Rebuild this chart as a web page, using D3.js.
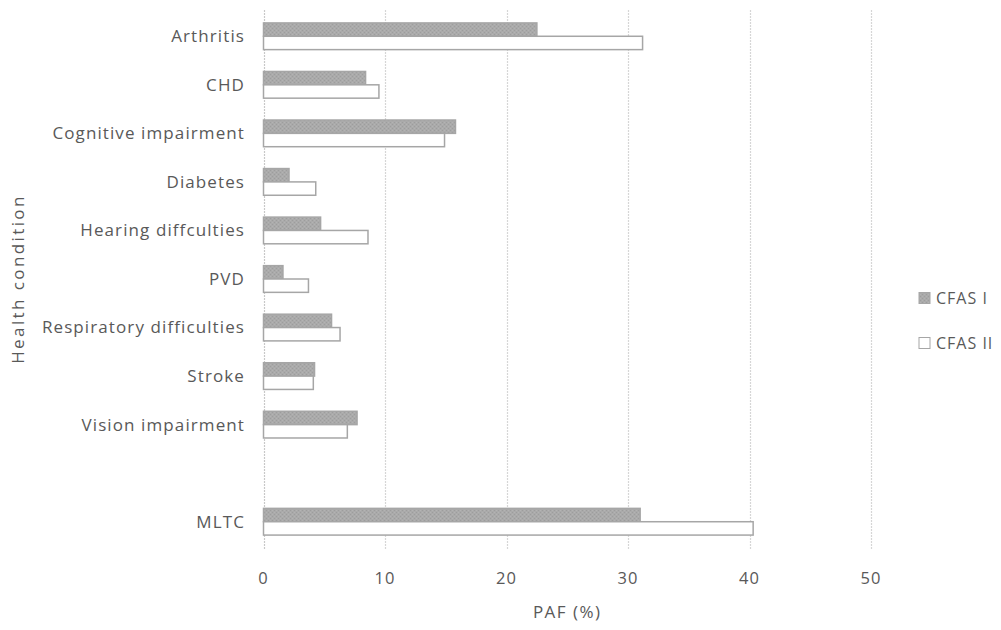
<!DOCTYPE html>
<html>
<head>
<meta charset="utf-8">
<script src="https://cdn.jsdelivr.net/npm/d3@7"></script>
<style>
  html, body { margin: 0; padding: 0; background: #fff; }
  svg { display: block; }
  text { font-family: "Open Sans", "DejaVu Sans", sans-serif; fill: #595959; }
</style>
</head>
<body>
<svg id="chart" width="1001" height="630"></svg>
<script>
const categories = ["Arthritis", "CHD", "Cognitive impairment", "Diabetes", "Hearing diffculties", "PVD", "Respiratory difficulties", "Stroke", "Vision impairment", "", "MLTC"];
const cfas1 = [22.5, 8.4, 15.8, 2.1, 4.7, 1.6, 5.6, 4.2, 7.7, null, 31.0];
const cfas2 = [31.2, 9.5, 14.9, 4.3, 8.6, 3.7, 6.3, 4.1, 6.9, null, 40.3];
const seriesNames = ["CFAS I", "CFAS II"];
const xTicks = [0, 10, 20, 30, 40, 50];

const svg = d3.select("#chart");
const margin = { left: 263.5, top: 12 };

const x = d3.scaleLinear().domain([0, 50]).range([margin.left, 871]);
const keys = categories.map((c, i) => "k" + i);
const y = d3.scaleBand().domain(keys).range([margin.top, 546]).paddingInner(0.45).paddingOuter(0.225);
const ySub = d3.scaleBand().domain([0, 1]).range([0, y.bandwidth()]);

// pattern for CFAS I
const defs = svg.append("defs");
const pat = defs.append("pattern").attr("id", "dots").attr("patternUnits", "userSpaceOnUse")
  .attr("width", 4).attr("height", 4);
pat.append("rect").attr("width", 4).attr("height", 4).attr("fill", "#aaaaaa");
pat.append("rect").attr("x", 0).attr("y", 0).attr("width", 1).attr("height", 1).attr("fill", "#9d9d9d");
pat.append("rect").attr("x", 2).attr("y", 2).attr("width", 1).attr("height", 1).attr("fill", "#9d9d9d");
pat.append("rect").attr("x", 2).attr("y", 0).attr("width", 1).attr("height", 1).attr("fill", "#b3b3b3");
pat.append("rect").attr("x", 0).attr("y", 2).attr("width", 1).attr("height", 1).attr("fill", "#b3b3b3");

// gridlines
svg.append("g").selectAll("line").data(xTicks).join("line")
  .attr("x1", d => Math.round(x(d)) + 0.5).attr("x2", d => Math.round(x(d)) + 0.5)
  .attr("y1", 10).attr("y2", 550)
  .attr("stroke", d => d === 0 ? "#c8c8c8" : "#d6d6d6")
  .attr("stroke-width", 1.2)
  .attr("stroke-dasharray", "2,1");

// bars
const data = [];
categories.forEach((c, i) => {
  if (cfas1[i] != null) data.push({ k: keys[i], s: 0, v: cfas1[i] });
  if (cfas2[i] != null) data.push({ k: keys[i], s: 1, v: cfas2[i] });
});
svg.append("g").selectAll("rect").data(data).join("rect")
  .attr("x", x(0))
  .attr("y", d => y(d.k) + ySub(d.s))
  .attr("width", d => x(d.v) - x(0))
  .attr("height", ySub.bandwidth())
  .attr("fill", d => d.s === 0 ? "url(#dots)" : "#ffffff")
  .attr("stroke", "#a6a6a6")
  .attr("stroke-width", 1.5);

// category labels
svg.append("g").selectAll("text").data(categories).join("text")
  .attr("x", 245)
  .attr("y", (d, i) => y(keys[i]) + y.bandwidth() / 2)
  .attr("dy", "0.35em")
  .attr("text-anchor", "end")
  .attr("font-size", 17)
  .attr("letter-spacing", "1.1px")
  .text(d => d);

// x tick labels
svg.append("g").selectAll("text").data(xTicks).join("text")
  .attr("x", d => x(d))
  .attr("y", 578)
  .attr("dy", "0.35em")
  .attr("text-anchor", "middle")
  .attr("font-size", 16.5)
  .attr("letter-spacing", "1px")
  .text(d => d);

// axis titles
svg.append("text").attr("x", (x(0) + x(50)) / 2).attr("y", 612).attr("dy", "0.35em")
  .attr("text-anchor", "middle").attr("font-size", 17).attr("letter-spacing", "1.5px").text("PAF (%)");
svg.append("text").attr("transform", `translate(18, ${(12 + 546) / 2}) rotate(-90)`)
  .attr("dy", "0.35em").attr("text-anchor", "middle").attr("font-size", 17)
  .attr("letter-spacing", "2.4px")
  .text("Health condition");

// legend
const leg = svg.append("g");
seriesNames.forEach((n, i) => {
  const ly = 298 + i * 45;
  leg.append("rect").attr("x", 919).attr("y", ly - 5.5).attr("width", 11).attr("height", 11)
    .attr("fill", i === 0 ? "url(#dots)" : "#fff").attr("stroke", "#a6a6a6").attr("stroke-width", 1);
  leg.append("text").attr("x", 936).attr("y", ly).attr("dy", "0.35em").attr("font-size", 16)
    .attr("letter-spacing", "1px").text(n);
});
</script>
</body>
</html>
